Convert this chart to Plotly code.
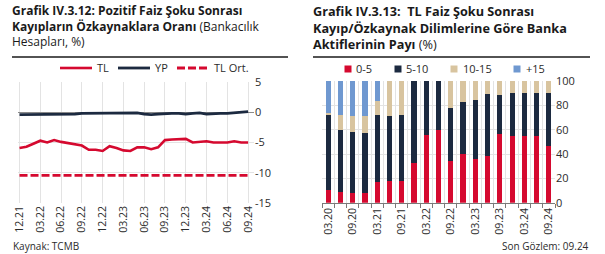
import plotly.graph_objects as go

# ---------------- Data: left chart ----------------
months = ["12.21", "01.22", "02.22", "03.22", "04.22", "05.22", "06.22", "07.22", "08.22",
          "09.22", "10.22", "11.22", "12.22", "01.23", "02.23", "03.23", "04.23", "05.23",
          "06.23", "07.23", "08.23", "09.23", "10.23", "11.23", "12.23", "01.24", "02.24",
          "03.24", "04.24", "05.24", "06.24", "07.24", "08.24", "09.24"]
tl = [-5.9, -5.7, -5.2, -4.7, -5.0, -4.6, -4.9, -5.1, -5.3, -5.5, -6.2, -6.2, -6.4, -5.6,
      -5.9, -6.3, -6.4, -5.8, -5.8, -6.1, -5.8, -4.6, -4.5, -4.5, -4.4, -5.0, -4.9, -4.8,
      -5.0, -5.0, -5.0, -4.8, -5.0, -5.0]
yp = [-0.4, -0.4, -0.35, -0.3, -0.3, -0.35, -0.4, -0.35, -0.3, -0.2, -0.2, -0.2, -0.15,
      -0.15, -0.15, -0.2, -0.15, -0.1, -0.3, -0.4, -0.3, -0.2, -0.2, -0.2, -0.3, -0.2,
      -0.1, -0.3, -0.2, -0.2, -0.2, -0.1, -0.05, 0.1]
tl_ort = [-10.45] * len(months)
left_names = ["TL", "YP", "TL Ort."]
left_ticks = months[::3]
left_yvals = [5, 0, -5, -10, -15]
left_ytext = ["5", "0", "-5", "-10", "-15"]

# ---------------- Data: right chart ----------------
quarters = ["03.20", "06.20", "09.20", "12.20", "03.21", "06.21", "09.21", "12.21", "03.22",
            "06.22", "09.22", "12.22", "03.23", "06.23", "09.23", "12.23", "03.24", "06.24",
            "09.24"]
s_0_5 = [10.5, 8.5, 8.2, 7.7, 17.0, 17.6, 18.0, 33.0, 56.0, 59.5, 34.0, 39.7, 35.6, 38.6,
         56.2, 54.5, 54.8, 54.8, 46.6]
s_5_10 = [62.0, 51.2, 50.2, 49.8, 55.0, 53.9, 54.0, 67.0, 44.0, 40.5, 44.0, 42.8, 48.5, 50.4,
          32.3, 35.4, 35.1, 35.1, 43.3]
s_10_15 = [1.5, 12.3, 12.8, 13.7, 11.6, 28.5, 28.0, 0, 0, 0, 22.0, 17.5, 15.9, 11.0, 11.5,
           10.1, 10.1, 10.1, 10.1]
s_15p = [26.0, 28.0, 28.8, 28.8, 16.4, 0, 0, 0, 0, 0, 0, 0, 0, 0, 0, 0, 0, 0, 0]
series_names = ["0-5", "5-10", "10-15", "+15"]
right_ticktext = [q if i % 2 == 0 else "" for i, q in enumerate(quarters)]

RED = "#D5092F"
NAVY = "#1C2A40"
TAN = "#D8C49F"
BLUE = "#6F98D0"
GRID = "#E3E3E3"
TXT = "#2B2B2B"
FONT = "Open Sans"

W, H = 605, 254


def px_x(p):
    return p / W


def px_y(p):
    return 1 - p / H


fig = go.Figure()

# left chart traces
left_styles = [dict(color=RED, width=2.6), dict(color=NAVY, width=2.8),
               dict(color=RED, width=2.8, dash="8px,3px")]
for name, vals, st in zip(left_names, [tl, yp, tl_ort], left_styles):
    fig.add_trace(go.Scatter(x=months, y=vals, mode="lines", name=name, line=st,
                             xaxis="x", yaxis="y", showlegend=False))

# right chart traces
bar_colors = [RED, NAVY, TAN, BLUE]
for name, vals, col in zip(series_names, [s_0_5, s_5_10, s_10_15, s_15p], bar_colors):
    fig.add_trace(go.Bar(x=quarters, y=vals, name=name, marker=dict(color=col, line=dict(width=0)),
                         width=0.42, xaxis="x2", yaxis="y2", showlegend=False))

fig.update_layout(
    width=W, height=H,
    margin=dict(l=0, r=0, t=0, b=0, autoexpand=False),
    paper_bgcolor="white", plot_bgcolor="white",
    font=dict(family=FONT, size=11, color=TXT),
    barmode="stack",
    showlegend=False,
    xaxis=dict(domain=[px_x(18), px_x(254)], type="category", range=[-0.22, 33.85],
               tickmode="array", tickvals=left_ticks, ticktext=left_ticks, tickangle=-90,
               showgrid=True, gridcolor=GRID, gridwidth=1, ticks="", showline=False,
               zeroline=False, tickfont=dict(size=10.5, color=TXT), anchor="y",
               automargin=False),
    yaxis=dict(domain=[px_y(203), px_y(82)], range=[-15, 5], side="right",
               tickmode="array", tickvals=left_yvals, ticktext=left_ytext,
               showgrid=True, gridcolor=GRID, gridwidth=1, zeroline=True,
               zerolinecolor="#8A8A8A", zerolinewidth=1, ticks="", showline=False,
               tickfont=dict(size=11, color=TXT), anchor="x", automargin=False),
    xaxis2=dict(domain=[px_x(322), px_x(555)], type="category", range=[-0.5, 18.5],
                tickmode="array", tickvals=quarters, ticktext=right_ticktext, tickangle=-90,
                tickson="boundaries", showgrid=True, gridcolor=GRID, gridwidth=1,
                ticks="outside", ticklen=4, tickcolor="#7A7A7A", showline=True,
                linecolor="#7A7A7A", linewidth=1, tickfont=dict(size=10.5, color=TXT),
                anchor="y2", automargin=False),
    yaxis2=dict(domain=[px_y(202.7), px_y(81)], range=[0, 100], side="right",
                tickmode="array", tickvals=[0, 20, 40, 60, 80, 100],
                showgrid=True, gridcolor=GRID, gridwidth=1, zeroline=False, ticks="",
                showline=False, tickfont=dict(size=11, color=TXT), anchor="x2",
                automargin=False),
)

# legend for the left chart (line sample + label)
ln_starts = [60, 118, 177]
ln_lbl = [95, 153, 212]
for name, st, lx, tx in zip(left_names, left_styles, ln_starts, ln_lbl):
    fig.add_shape(type="line", xref="paper", yref="paper", x0=px_x(lx), x1=px_x(lx + 32),
                  y0=px_y(68), y1=px_y(68), line=st)
    fig.add_annotation(x=px_x(tx), y=px_y(68), xref="paper", yref="paper", xanchor="left",
                       yanchor="middle", showarrow=False, text=name,
                       font=dict(size=11, color=TXT, family=FONT))

# legend for the right chart (swatch + label)
sw_centers = [348, 398, 454, 517]
lbl_starts = [354, 404, 461, 524]
for name, col, cx, tx in zip(series_names, bar_colors, sw_centers, lbl_starts):
    fig.add_shape(type="rect", xref="paper", yref="paper",
                  x0=px_x(cx - 3.5), x1=px_x(cx + 3.5), y0=px_y(72.5), y1=px_y(65.5),
                  fillcolor=col, line=dict(width=0))
    fig.add_annotation(x=px_x(tx), y=px_y(69), xref="paper", yref="paper", xanchor="left",
                       yanchor="middle", showarrow=False, text=name,
                       font=dict(size=11, color=TXT, family=FONT))

# titles
fig.add_annotation(x=px_x(11), y=px_y(1), xref="paper", yref="paper", xanchor="left",
                   yanchor="top", align="left", showarrow=False, borderpad=0,
                   font=dict(size=12, color="#1A1A1A", family=FONT),
                   text="<b>Grafik IV.3.12: Pozitif Faiz Şoku Sonrası</b><br>"
                        "<b>Kayıpların Özkaynaklara Oranı</b> (Bankacılık<br>Hesapları, %)")
fig.add_annotation(x=px_x(312), y=px_y(0.5), xref="paper", yref="paper", xanchor="left",
                   yanchor="top", align="left", showarrow=False, borderpad=0,
                   font=dict(size=12.7, color="#1A1A1A", family=FONT),
                   text="<b>Grafik IV.3.13:  TL Faiz Şoku Sonrası</b><br>"
                        "<b>Kayıp/Özkaynak Dilimlerine Göre Banka</b><br>"
                        "<b>Aktiflerinin Payı</b> (%)")

# rules under titles
fig.add_shape(type="line", xref="paper", yref="paper", x0=px_x(12), x1=px_x(288),
              y0=px_y(57), y1=px_y(57), line=dict(color="#1A1A1A", width=1.5))
fig.add_shape(type="line", xref="paper", yref="paper", x0=px_x(313), x1=px_x(590),
              y0=px_y(57), y1=px_y(57), line=dict(color="#1A1A1A", width=1.5))
# footers
fig.add_annotation(x=px_x(12), y=px_y(254), xref="paper", yref="paper", xanchor="left",
                   yanchor="bottom", showarrow=False, text="Kaynak: TCMB", borderpad=0,
                   font=dict(size=10, color=TXT, family=FONT))
fig.add_annotation(x=px_x(590), y=px_y(254), xref="paper", yref="paper", xanchor="right",
                   yanchor="bottom", showarrow=False, text="Son Gözlem: 09.24", borderpad=0,
                   font=dict(size=10, color=TXT, family=FONT))

fig.write_html("out.html")
